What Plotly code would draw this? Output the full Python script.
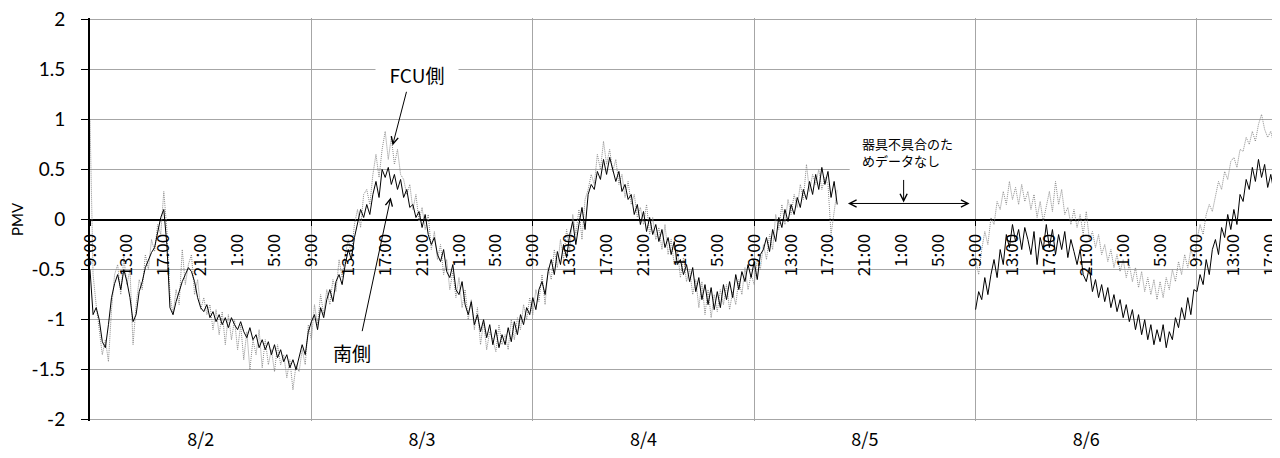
import plotly.graph_objects as go

# ---------------- data (20-minute samples, hours since 8/2 9:00) ----------------
SEG1_START = 0.0      # 8/2 9:00
SEG2_START = 96.0     # 8/6 9:00
STEP_H = 1.0 / 3.0

SOUTH_SEG1 = [
    -0.50, -0.95, -0.88, -1.00, -1.22, -1.28, -1.05, -0.78, -0.64, -0.55, -0.70, -0.50,
    -0.62, -0.78, -1.02, -0.95, -0.72, -0.62, -0.48, -0.40, -0.33, -0.28, -0.12, 0.02,
    0.10, -0.25, -0.88, -0.95, -0.82, -0.72, -0.62, -0.55, -0.48, -0.52, -0.62, -0.78,
    -0.88, -0.92, -0.85, -0.98, -0.92, -1.02, -0.95, -1.05, -0.98, -1.08, -0.98, -1.05,
    -1.10, -1.02, -1.12, -1.18, -1.08, -1.20, -1.15, -1.28, -1.20, -1.30, -1.22, -1.35,
    -1.25, -1.38, -1.30, -1.42, -1.35, -1.48, -1.40, -1.50, -1.38, -1.25, -1.35, -1.12,
    -1.02, -0.95, -1.10, -0.88, -0.98, -0.80, -0.70, -0.82, -0.62, -0.55, -0.65, -0.45,
    -0.30, -0.40, -0.18, -0.05, 0.10, 0.02, 0.15, 0.05, 0.25, 0.38, 0.22, 0.50,
    0.42, 0.52, 0.35, 0.45, 0.30, 0.40, 0.22, 0.30, 0.12, 0.15, 0.02, 0.08,
    -0.08, 0.05, -0.15, -0.25, -0.18, -0.35, -0.42, -0.30, -0.52, -0.58, -0.45, -0.70,
    -0.75, -0.62, -0.85, -0.95, -0.82, -1.05, -0.95, -1.12, -1.00, -1.18, -1.05, -1.25,
    -1.10, -1.28, -1.15, -1.25, -1.08, -1.22, -1.02, -1.15, -0.95, -1.05, -0.88, -0.95,
    -0.78, -0.90, -0.70, -0.62, -0.75, -0.52, -0.40, -0.55, -0.32, -0.45, -0.25, -0.38,
    -0.15, -0.02, -0.25, -0.05, 0.12, -0.10, 0.25, 0.35, 0.30, 0.48, 0.40, 0.60,
    0.45, 0.62, 0.50, 0.38, 0.48, 0.28, 0.35, 0.20, 0.25, 0.05, 0.15, -0.05,
    0.08, -0.12, 0.02, -0.15, -0.05, -0.22, -0.10, -0.28, -0.18, -0.35, -0.22, -0.45,
    -0.40, -0.55, -0.45, -0.62, -0.48, -0.72, -0.58, -0.80, -0.65, -0.85, -0.68, -0.90,
    -0.72, -0.88, -0.65, -0.80, -0.62, -0.78, -0.55, -0.70, -0.52, -0.62, -0.45, -0.58,
    -0.42, -0.60, -0.35, -0.30, -0.18, -0.32, -0.10, -0.22, 0.02, -0.08, 0.10, -0.02,
    0.15, 0.05, 0.22, 0.12, 0.30, 0.20, 0.38, 0.25, 0.45, 0.30, 0.52, 0.35,
    0.48, 0.22, 0.38, 0.15,
]
SOUTH_SEG2 = [
    -0.90, -0.72, -0.80, -0.58, -0.75, -0.55, -0.40, -0.58, -0.30, -0.45, -0.15, -0.28,
    -0.05, -0.22, -0.10, -0.30, -0.08, -0.20, -0.35, -0.12, -0.45, -0.18, -0.30, -0.05,
    -0.28, -0.10, -0.35, -0.15, -0.30, -0.12, -0.38, -0.20, -0.32, -0.45, -0.30, -0.55,
    -0.62, -0.48, -0.72, -0.60, -0.78, -0.65, -0.82, -0.68, -0.88, -0.75, -0.92, -0.80,
    -0.98, -0.85, -1.02, -0.90, -1.10, -0.95, -1.15, -1.00, -1.20, -1.05, -1.25, -1.10,
    -1.22, -1.05, -1.28, -1.12, -1.20, -0.98, -1.08, -0.88, -1.00, -0.78, -0.95, -0.70,
    -0.72, -0.55, -0.65, -0.40, -0.55, -0.30, -0.20, -0.35, -0.08, -0.18, 0.05, -0.10,
    0.10, -0.05, 0.25, 0.18, 0.40, 0.30, 0.52, 0.38, 0.60, 0.42, 0.55, 0.32,
    0.45, 0.28, 0.40, 0.30,
]
FCU_SEG1 = [
    1.00, -0.55, -0.85, -1.10, -1.35, -1.20, -1.42, -0.90, -0.55, -0.45, -0.75, -0.38,
    -0.65, -0.50, -1.25, -0.85, -0.60, -0.70, -0.35, -0.50, -0.20, -0.32, -0.05, -0.15,
    0.28, -0.10, -0.75, -0.95, -0.70, -0.85, -0.30, -0.65, -0.45, -0.35, -0.75, -0.60,
    -0.90, -0.78, -0.95, -0.85, -1.10, -0.90, -1.15, -0.92, -1.25, -0.95, -1.20, -1.00,
    -1.30, -1.05, -1.40, -1.12, -1.50, -1.20, -1.35, -1.10, -1.48, -1.20, -1.45, -1.30,
    -1.52, -1.25, -1.45, -1.35, -1.58, -1.40, -1.70, -1.45, -1.52, -1.30, -1.45, -1.05,
    -1.20, -0.85, -1.05, -0.75, -0.95, -0.70, -0.85, -0.60, -0.72, -0.40, -0.58, -0.35,
    -0.20, -0.35, -0.05, 0.10, -0.08, 0.25, 0.30, 0.15, 0.45, 0.65, 0.42, 0.70,
    0.88, 0.60, 0.82, 0.55, 0.70, 0.45, 0.40, 0.25, 0.35, 0.10, 0.25, -0.02,
    0.12, -0.10, 0.05, -0.30, -0.12, -0.40, -0.25, -0.55, -0.40, -0.70, -0.52, -0.78,
    -0.58, -0.88, -0.70, -1.00, -0.80, -1.10, -0.88, -1.25, -1.02, -1.30, -1.12, -1.20,
    -1.32, -1.05, -1.25, -1.15, -1.30, -1.00, -1.20, -0.98, -1.10, -0.85, -1.00, -0.78,
    -0.95, -0.70, -0.82, -0.55, -0.85, -0.48, -0.60, -0.30, -0.48, -0.20, -0.40, -0.10,
    -0.30, 0.05, -0.15, 0.10, -0.20, 0.20, 0.30, 0.45, 0.35, 0.65, 0.50, 0.78,
    0.55, 0.70, 0.48, 0.60, 0.35, 0.45, 0.22, 0.38, 0.15, 0.25, 0.02, 0.12,
    -0.05, 0.15, -0.15, 0.02, -0.20, -0.08, -0.30, -0.05, -0.35, -0.20, -0.45, -0.30,
    -0.58, -0.38, -0.62, -0.50, -0.75, -0.60, -0.88, -0.62, -0.95, -0.70, -0.98, -0.75,
    -0.92, -0.70, -0.85, -0.65, -0.90, -0.72, -0.85, -0.60, -0.75, -0.48, -0.70, -0.55,
    -0.65, -0.40, -0.50, -0.25, -0.40, -0.15, -0.30, 0.05, -0.10, 0.15, -0.05, 0.20,
    0.05, 0.25, 0.12, 0.35, 0.20, 0.55, 0.28, 0.45, 0.35, 0.50, 0.30, 0.42,
    0.35, -0.15, 0.10, 0.30,
]
FCU_SEG2 = [
    -0.40, -0.55, -0.30, -0.12, -0.25, 0.02, -0.05, 0.18, 0.10, 0.28, 0.15, 0.38,
    0.20, 0.32, 0.15, 0.35, 0.18, 0.28, 0.10, 0.25, 0.02, 0.18, -0.02, 0.12,
    0.28, 0.08, 0.38, 0.15, 0.30, 0.05, 0.12, -0.05, 0.10, -0.08, 0.05, -0.15,
    0.08, -0.20, -0.12, -0.28, -0.15, -0.35, -0.25, -0.42, -0.30, -0.48, -0.35, -0.52,
    -0.40, -0.58, -0.45, -0.62, -0.48, -0.68, -0.52, -0.72, -0.58, -0.75, -0.60, -0.80,
    -0.62, -0.78, -0.58, -0.70, -0.50, -0.62, -0.42, -0.55, -0.35, -0.48, -0.30, -0.40,
    -0.20, -0.05, -0.15, 0.05, 0.15, 0.08, 0.25, 0.38, 0.30, 0.48, 0.40, 0.58,
    0.62, 0.52, 0.70, 0.68, 0.82, 0.75, 0.88, 0.78, 0.95, 1.05, 0.90, 0.82,
    0.88, 0.75, 0.85, 0.72,
]

DATES = ["8/2", "8/3", "8/4", "8/5", "8/6"]
HOUR_CYCLE = ["9:00", "13:00", "17:00", "21:00", "1:00", "5:00"]
Y_TICKS = [2, 1.5, 1, 0.5, 0, -0.5, -1, -1.5, -2]
Y_TEXT = ["2", "1.5", "1", "0.5", "0", "-0.5", "-1", "-1.5", "-2"]

X_MAX = 129.0
Y_RANGE = [-2.012, 2.012]
GRID = "#a6a6a6"
JP = "Noto Sans CJK JP"


def times(start, n):
    return [start + i * STEP_H for i in range(n)]


def join(seg1, seg2):
    x = times(SEG1_START, len(seg1)) + [None] + times(SEG2_START, len(seg2))
    y = list(seg1) + [None] + list(seg2)
    return x, y


fx, fy = join(FCU_SEG1, FCU_SEG2)
sx, sy = join(SOUTH_SEG1, SOUTH_SEG2)

fig = go.Figure()
# empty helper traces so the overlaid axes (date labels / day grid) get drawn
for ax_name in ("x2", "x3"):
    fig.add_trace(go.Scatter(x=[0, X_MAX], y=[None, None], xaxis=ax_name, yaxis="y",
                             mode="lines", hoverinfo="skip", showlegend=False))
fig.add_trace(go.Scatter(x=fx, y=fy, mode="lines", name="FCU側",
                         line=dict(color="#8c8c8c", width=1, dash="1px,1px"),
                         connectgaps=False, hoverinfo="skip"))
fig.add_trace(go.Scatter(x=sx, y=sy, mode="lines", name="南側",
                         line=dict(color="#000000", width=1),
                         connectgaps=False, hoverinfo="skip"))

hour_vals = list(range(0, 129, 4))
hour_text = [HOUR_CYCLE[i % len(HOUR_CYCLE)] for i in range(len(hour_vals))]
day_mid = [12 + 24 * i for i in range(len(DATES))]

# page body has an 8px margin: compensate so the plot area sits where the reference has it
fig.update_layout(
    width=1272, height=450,
    margin=dict(l=82, r=0, t=10, b=37, autoexpand=False),
    paper_bgcolor="white", plot_bgcolor="white",
    showlegend=False,
    xaxis=dict(range=[0, X_MAX], anchor="free", position=0.5, automargin=False,
               tickmode="array", tickvals=hour_vals, ticktext=hour_text,
               tickangle=-90, ticks="", showgrid=False, zeroline=False,
               showline=False, ticklabelstandoff=10, ticklabeloverflow="allow",
               tickfont=dict(family=JP, size=17, color="black")),
    xaxis2=dict(overlaying="x", range=[0, X_MAX], anchor="y", side="bottom",
                automargin=False, ticklabeloverflow="allow",
                tickmode="array", tickvals=day_mid, ticktext=DATES,
                ticks="", showgrid=False, zeroline=False, showline=False,
                ticklabelstandoff=6,
                tickfont=dict(family=JP, size=18, color="black")),
    xaxis3=dict(overlaying="x", range=[0, X_MAX], anchor="free", position=0.5,
                automargin=False,
                tickmode="linear", tick0=0, dtick=24, showgrid=True,
                gridcolor=GRID, gridwidth=1, showticklabels=False,
                ticks="outside", ticklen=5, tickcolor="black",
                zeroline=False, showline=False),
    yaxis=dict(range=Y_RANGE, tickmode="array", tickvals=Y_TICKS, ticktext=Y_TEXT,
               automargin=False, ticklabeloverflow="allow",
               showgrid=True, gridcolor=GRID, gridwidth=1,
               zeroline=True, zerolinecolor="black", zerolinewidth=2,
               showline=True, linecolor="black", linewidth=2,
               ticks="outside", ticklen=7, tickcolor="black", tickwidth=1,
               ticklabelstandoff=12,
               tickfont=dict(family="Lato", size=19, color="black"),
               title=dict(text="PMV", font=dict(family="Lato", size=15, color="black"),
                          standoff=10)),
)

# white box behind the "no data" note (covers the 0.5 grid line)
fig.add_shape(type="rect", xref="x", yref="y", x0=82.35, x1=95.6, y0=0.40, y1=0.95,
              fillcolor="white", line=dict(width=0), layer="above")

ann_font = dict(family=JP, size=19, color="black")
arrow_kw = dict(showarrow=True, arrowhead=5, arrowsize=1.4, arrowwidth=1,
                arrowcolor="black", axref="x", ayref="y", text="")

fig.add_annotation(x=35.5, y=1.45, text="FCU側", showarrow=False, font=ann_font,
                   bgcolor="white", width=80)
fig.add_annotation(x=32.8, y=0.74, ax=34.35, ay=1.29, **arrow_kw)
fig.add_annotation(x=28.4, y=-1.33, text="南側", showarrow=False, font=ann_font)
fig.add_annotation(x=32.6, y=0.22, ax=29.47, ay=-1.13, **arrow_kw)
fig.add_annotation(x=83.43, y=0.67, xanchor="left", align="left",
                   text="器具不具合のた<br>めデータなし", showarrow=False,
                   font=dict(family=JP, size=13, color="black"))
fig.add_annotation(x=88.2, y=0.17, ax=88.2, ay=0.41, **arrow_kw)
fig.add_annotation(x=95.35, y=0.16, ax=82.0, ay=0.16, arrowside="end+start",
                   startarrowhead=5, startarrowsize=1.4, **arrow_kw)

fig.write_html("out.html")
